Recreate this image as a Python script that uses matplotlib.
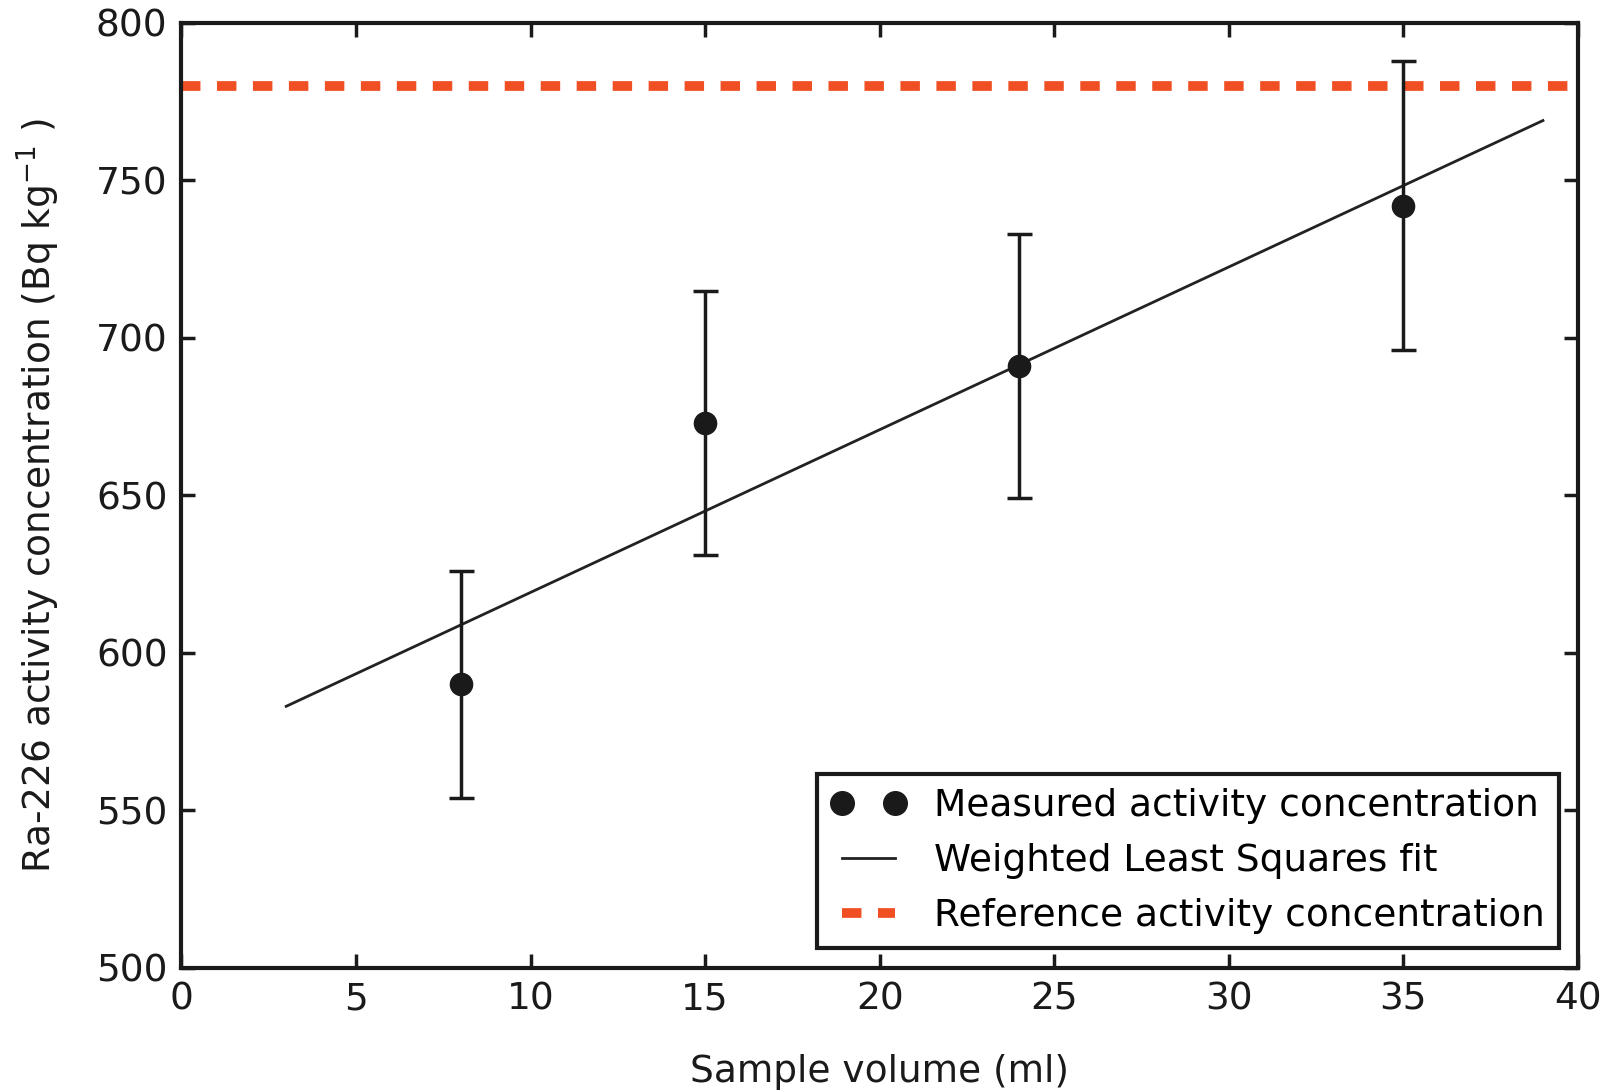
import matplotlib
matplotlib.use("Agg")
import matplotlib.pyplot as plt
from matplotlib.lines import Line2D

# measured points
volume = [8, 15, 24, 35]
activity = [590, 673, 691, 742]
err_low = [36, 42, 42, 46]
err_high = [36, 42, 42, 46]

# weighted least squares fit end points
fit_x = [3, 39]
fit_y = [583, 769]

reference_value = 780

plt.rcParams['font.family'] = ['DejaVu Sans']
plt.rcParams['mathtext.fontset'] = 'dejavusans'

fig = plt.figure(figsize=(16.2, 10.91), dpi=100)
ax = fig.add_axes([0.112, 0.113, 0.862, 0.866])

ax.axhline(reference_value, color='#f04e23', lw=7, dashes=(2, 1.7), zorder=1)
ax.plot(fit_x, fit_y, color='#222222', lw=2, zorder=2)
ax.errorbar(volume, activity, yerr=[err_low, err_high], fmt='o',
            color='#1a1a1a', ms=16, elinewidth=2.5, capsize=9, capthick=2.5,
            zorder=3)

ax.set_xlim(0, 40)
ax.set_ylim(500, 800)
ax.set_xticks(range(0, 41, 5))
ax.set_yticks(range(500, 801, 50))
ax.tick_params(direction='in', top=True, right=True, length=10, width=2.5,
               labelsize=27, colors='#1a1a1a', pad=10)
for s in ax.spines.values():
    s.set_linewidth(3)
    s.set_color('#1a1a1a')

ax.set_xlabel('Sample volume (ml)', fontsize=27, color='#1a1a1a', labelpad=26)
ax.set_ylabel(r'Ra-226 activity concentration (Bq kg$^{-1}$ )', fontsize=27,
              color='#1a1a1a', labelpad=24)

handles = [
    Line2D([], [], ls='none', marker='o', ms=17, color='#1a1a1a'),
    Line2D([], [], color='#222222', lw=2),
    Line2D([], [], color='#f04e23', lw=7, dashes=(2, 1.7)),
]
labels = ['Measured activity concentration', 'Weighted Least Squares fit',
          'Reference activity concentration']
leg = ax.legend(handles, labels, loc='lower right',
                fontsize=27, numpoints=2, fancybox=False, framealpha=1,
                edgecolor='#1a1a1a', handlelength=2.0, handletextpad=0.75,
                borderpad=0.38, labelspacing=0.5, borderaxespad=0,
                bbox_to_anchor=(0.9867, 0.021))
leg.get_frame().set_linewidth(3)

fig.savefig('out.png', dpi=100)
